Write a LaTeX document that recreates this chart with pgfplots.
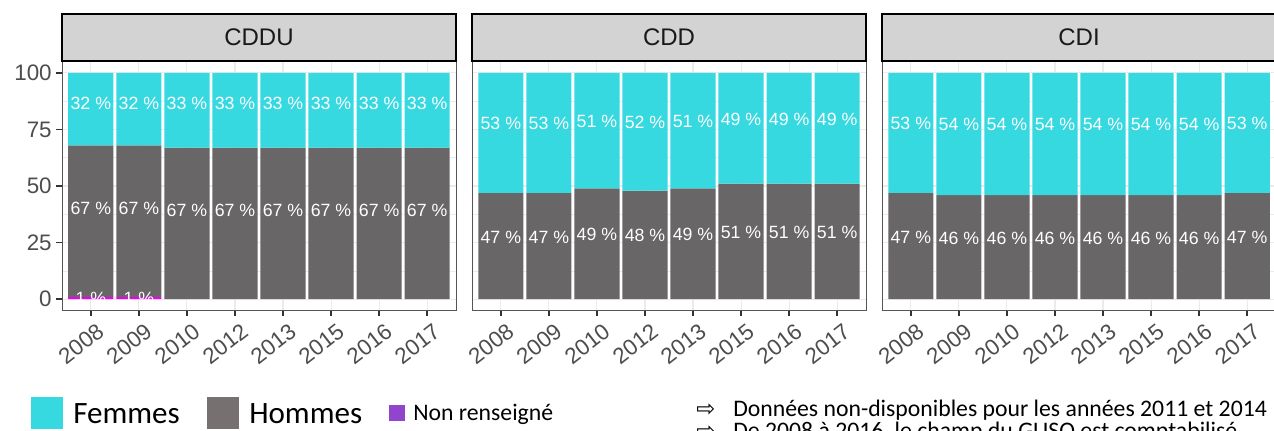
\documentclass[border=0pt]{standalone}
\usepackage{pgfplots}
\pgfplotsset{compat=1.18}
\usepackage{fontspec}
\setmainfont{Liberation Sans}
\newfontfamily\carlito{Carlito}
\newfontfamily\dejavu{DejaVu Sans}

\definecolor{fem}{HTML}{36D9E0}
\definecolor{hom}{HTML}{686666}
\definecolor{homleg}{HTML}{767170}
\definecolor{nrbar}{HTML}{EE00EE}
\definecolor{nrleg}{HTML}{8F45CC}
\definecolor{stripc}{HTML}{D3D3D3}
\definecolor{gridc}{HTML}{EBEBEB}
\definecolor{tickc}{HTML}{333333}
\definecolor{labc}{HTML}{4D4D4D}
\definecolor{framec}{HTML}{555555}

\pgfplotsset{
  panel/.style={
    scale only axis, width=295.5pt, height=186.75pt, anchor=south west,
    xmin=0.4, xmax=8.6, ymin=-5, ymax=105,
    xtick={1,2,3,4,5,6,7,8},
    xticklabels={2008,2009,2010,2012,2013,2015,2016,2017},
    ytick={0,25,50,75,100}, minor ytick={12.5,37.5,62.5,87.5},
    xtick pos=bottom, ytick pos=left,
    tick align=outside, major tick length=4.2pt, minor tick length=0pt,
    grid=both,
    major grid style={gridc, line width=0.8pt},
    minor grid style={gridc, line width=0.4pt},
    axis line style={framec, line width=0.6pt},
    tick style={tickc, line width=1.1pt},
    /pgf/number format/assume math mode=true,
    ticklabel style={font=\fontsize{16.8}{18}\selectfont, text=labc},
    xticklabel shift=6pt,
    xticklabel style={rotate=38, anchor=north east, inner sep=1pt, xshift=5pt},
    ybar stacked, reverse stacked plots=false, bar width=0.94,
  },
}
\tikzset{barlab/.style={font=\fontsize{13.3}{15}\selectfont, text=white, anchor=center, inner sep=0pt}}
\newcommand\lab[3]{\node[barlab] at (axis cs:#1,#2) {#3 \%};}

\begin{document}
\begin{tikzpicture}
\useasboundingbox (0pt,0pt) rectangle (955.5pt,-323.25pt);
\coordinate (P1) at (46.5pt,-232.875pt);
\coordinate (P2) at (354pt,-232.875pt);
\coordinate (P3) at (661.5pt,-232.875pt);

% ---------- CDDU ----------
\begin{axis}[panel, at={(P1)}]
  \addplot[fill=nrbar, draw=none] coordinates {(1,1) (2,1) (3,0) (4,0) (5,0) (6,0) (7,0) (8,0)};
  \addplot[fill=hom, draw=none] coordinates {(1,67) (2,67) (3,67) (4,67) (5,67) (6,67) (7,67) (8,67)};
  \addplot[fill=fem, draw=none] coordinates {(1,32) (2,32) (3,33) (4,33) (5,33) (6,33) (7,33) (8,33)};
  \lab{1}{86.6}{32}\lab{2}{86.6}{32}\lab{3}{86.3}{33}\lab{4}{86.3}{33}
  \lab{5}{86.3}{33}\lab{6}{86.3}{33}\lab{7}{86.3}{33}\lab{8}{86.3}{33}
  \lab{1}{40}{67}\lab{2}{40}{67}\lab{3}{39.3}{67}\lab{4}{39.3}{67}
  \lab{5}{39.3}{67}\lab{6}{39.3}{67}\lab{7}{39.3}{67}\lab{8}{39.3}{67}
  \lab{1}{0.5}{1}\lab{2}{0.5}{1}
\end{axis}

% ---------- CDD ----------
\begin{axis}[panel, at={(P2)}, yticklabels={}, y tick style={draw=none}]
  \addplot[fill=hom, draw=none] coordinates {(1,47) (2,47) (3,49) (4,48) (5,49) (6,51) (7,51) (8,51)};
  \addplot[fill=fem, draw=none] coordinates {(1,53) (2,53) (3,51) (4,52) (5,51) (6,49) (7,49) (8,49)};
  \lab{1}{77.7}{53}\lab{2}{77.7}{53}\lab{3}{78.7}{51}\lab{4}{78.2}{52}
  \lab{5}{78.7}{51}\lab{6}{79.5}{49}\lab{7}{79.5}{49}\lab{8}{79.5}{49}
  \lab{1}{27.5}{47}\lab{2}{27.5}{47}\lab{3}{28.5}{49}\lab{4}{28}{48}
  \lab{5}{28.5}{49}\lab{6}{29.5}{51}\lab{7}{29.5}{51}\lab{8}{29.5}{51}
\end{axis}

% ---------- CDI ----------
\begin{axis}[panel, at={(P3)}, yticklabels={}, y tick style={draw=none}]
  \addplot[fill=hom, draw=none] coordinates {(1,47) (2,46) (3,46) (4,46) (5,46) (6,46) (7,46) (8,47)};
  \addplot[fill=fem, draw=none] coordinates {(1,53) (2,54) (3,54) (4,54) (5,54) (6,54) (7,54) (8,53)};
  \lab{1}{77.7}{53}\lab{2}{77.2}{54}\lab{3}{77.2}{54}\lab{4}{77.2}{54}
  \lab{5}{77.2}{54}\lab{6}{77.2}{54}\lab{7}{77.2}{54}\lab{8}{77.7}{53}
  \lab{1}{27.5}{47}\lab{2}{27}{46}\lab{3}{27}{46}\lab{4}{27}{46}
  \lab{5}{27}{46}\lab{6}{27}{46}\lab{7}{27}{46}\lab{8}{27.5}{47}
\end{axis}

\begin{scope}[x=0.75pt,y=-0.75pt]
  % strips
  \foreach \xa/\ttl in {62/CDDU, 472/CDD, 882/CDI}{
    \draw[fill=stripc, draw=black, line width=1.4pt] (\xa,14) rectangle (\xa+394,61);
    \node[font=\fontsize{18}{20}\selectfont, text=black!90] at (\xa+197,37.5) {\ttl};
  }
  % legend
  \fill[fem] (31,397) rectangle (63,429);
  \node[anchor=base west, inner sep=0pt, font=\carlito\fontsize{23.3}{26}\selectfont] at (73,423.5) {Femmes};
  \fill[homleg] (207,397) rectangle (239,429);
  \node[anchor=base west, inner sep=0pt, font=\carlito\fontsize{23.3}{26}\selectfont] at (249,423.5) {Hommes};
  \fill[nrleg] (389,405) rectangle (405,421);
  \node[anchor=base west, inner sep=0pt, font=\carlito\fontsize{17.8}{20}\selectfont] at (413,420.5) {Non renseigné};
  % notes
  \node[anchor=base west, inner sep=0pt, font=\dejavu\fontsize{17}{18}\selectfont] at (696,416) {⇨};
  \node[anchor=base west, inner sep=0pt, font=\carlito\fontsize{17.8}{20}\selectfont] at (733,416) {Données non-disponibles pour les années 2011 et 2014};
  \node[anchor=base west, inner sep=0pt, font=\dejavu\fontsize{17}{18}\selectfont] at (696,438.5) {⇨};
  \node[anchor=base west, inner sep=0pt, font=\carlito\fontsize{17.8}{20}\selectfont] at (733,438.5) {De 2008 à 2016, le champ du GUSO est comptabilisé};
\end{scope}
\end{tikzpicture}
\end{document}
